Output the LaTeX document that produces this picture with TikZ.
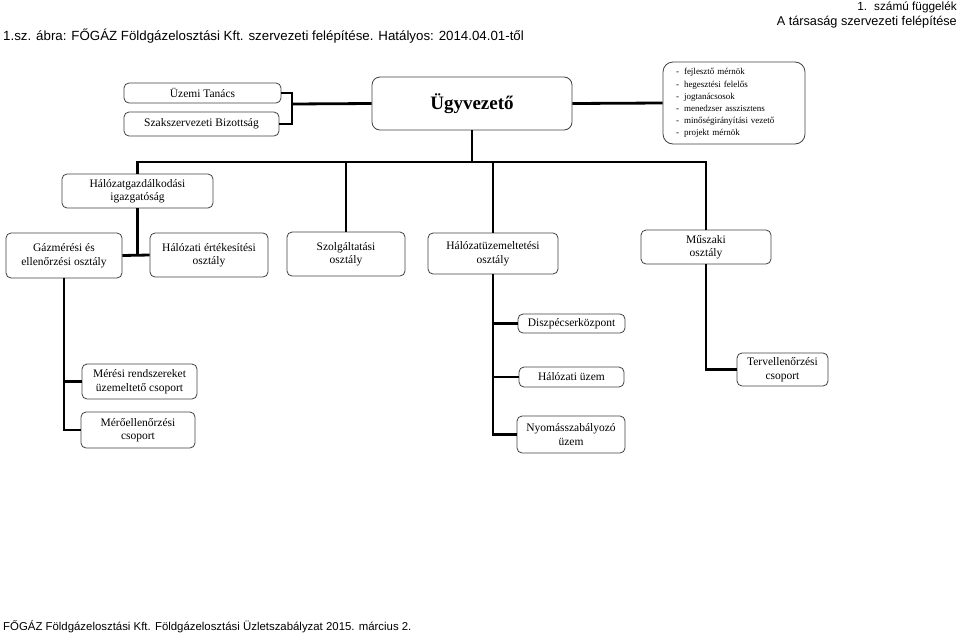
\documentclass[tikz,border=0pt]{standalone}
\usepackage{fontspec}
\setmainfont{Liberation Serif}
\newfontfamily\hdfont{Liberation Sans}
\usetikzlibrary{positioning,calc}

\tikzstyle{unit} = [rectangle, draw=black!75, line width=0.8pt, rounded corners=5pt, align=center, inner sep=1pt, font=\fontsize{11.5}{13.5}\selectfont]
\tikzstyle{link} = [draw, line width=2.8pt]
\tikzstyle{hdr}  = [font=\hdfont\fontsize{12.7}{15}\selectfont, inner sep=0pt]

\begin{document}
\begin{tikzpicture}[x=1pt, y=-1pt]
    \useasboundingbox (0,0) rectangle (960,635);

    % fejlec es lablec
    \node[hdr, anchor=east, font=\hdfont\fontsize{11.8}{13}\selectfont] (fugg) at (957,7) {1.\hspace{7pt}számú függelék};
    \node[hdr, anchor=east] (tars)  at (957,22) {A társaság szervezeti felépítése};
    \node[hdr, anchor=west, font=\hdfont\fontsize{13.3}{15}\selectfont] (cim) at (3,36)
        {1.sz. ábra: FŐGÁZ Földgázelosztási Kft. szervezeti felépítése. Hatályos: 2014.04.01-től};
    \node[hdr, anchor=west, font=\hdfont\fontsize{11.4}{14}\selectfont] (labl) at (3,627)
        {FŐGÁZ Földgázelosztási Kft. Földgázelosztási Üzletszabályzat 2015. március 2.};

    % felso szint
    \node[unit, minimum width=157pt, minimum height=20pt] (uzemi) at (202.5,93)  {Üzemi Tanács};
    \node[unit, minimum width=155pt, minimum height=24pt] (szak)  at (201.5,124) {Szakszervezeti Bizottság};
    \node[unit, minimum width=200pt, minimum height=53pt, rounded corners=8pt,
          font=\bfseries\fontsize{19}{22}\selectfont]   (ugyv)  at (472,103.5) {Ügyvezető};
    \node[unit, minimum width=142pt, minimum height=82pt, rounded corners=10pt, align=left,
          text width=116pt, inner xsep=13pt, font=\fontsize{9}{12.1}\selectfont] (staff) at (734,103)
    {-\hspace{5pt}fejlesztő mérnök\\
     -\hspace{5pt}hegesztési felelős\\
     -\hspace{5pt}jogtanácsosok\\
     -\hspace{5pt}menedzser asszisztens\\
     -\hspace{5pt}minőségirányítási vezető\\
     -\hspace{5pt}projekt mérnök};

    % igazgatosag es osztalyok
    \node[unit, minimum width=151pt, minimum height=34pt] (halgazd) at (137.5,191) {Hálózatgazdálkodási\\igazgatóság};
    \node[unit, minimum width=116pt, minimum height=45pt] (gazmer)  at (64,255.5)  {Gázmérési és\\ellenőrzési osztály};
    \node[unit, minimum width=118pt, minimum height=44pt] (halert)  at (209,255)   {Hálózati értékesítési\\osztály};
    \node[unit, minimum width=118pt, minimum height=44pt] (szolg)   at (346,254)   {Szolgáltatási\\osztály};
    \node[unit, minimum width=130pt, minimum height=41pt] (halzem)  at (493,253.5) {Hálózatüzemeltetési\\osztály};
    \node[unit, minimum width=130pt, minimum height=34pt] (muszaki) at (706,247)   {Műszaki\\osztály};

    % csoportok
    \node[unit, minimum width=115pt, minimum height=35pt] (meresi)   at (139.5,381.5) {Mérési rendszereket\\üzemeltető csoport};
    \node[unit, minimum width=114pt, minimum height=36pt] (meroell)  at (138,430)     {Mérőellenőrzési\\csoport};
    \node[unit, minimum width=107pt, minimum height=19pt] (diszp)    at (571.5,323.5) {Diszpécserközpont};
    \node[unit, minimum width=105pt, minimum height=20pt] (halzuzem) at (571.5,377)   {Hálózati üzem};
    \node[unit, minimum width=108pt, minimum height=37pt] (nyomas)   at (571,434.5)   {Nyomásszabályozó\\üzem};
    \node[unit, minimum width=91pt,  minimum height=33pt] (terv)     at (782.5,369.5) {Tervellenőrzési\\csoport};

    \coordinate (brk) at (292,104);
    \coordinate (bar) at (472,162);

    \path[link] (uzemi.east) -| (brk) |- (szak.east);
    \path[link] (brk) -- (ugyv.west);
    \path[link] (ugyv.east) -- (staff.west);
    \path[link] (ugyv.south) -- (bar);
    \path[link] (halgazd.north) |- (bar) -| (muszaki.north);
    \path[link] (szolg.north) -- (szolg.north |- bar);
    \path[link] (halzem.north) -- (halzem.north |- bar);
    \path[link] (halgazd.south) -- (halgazd.south |- gazmer.east);
    \path[link] (gazmer.east) -- (halert.west);
    \path[link] (gazmer.south) |- (meroell.west);
    \path[link] (meresi.west) -- (meresi.west -| gazmer.south);
    \path[link] (halzem.south) |- (nyomas.west);
    \path[link] (diszp.west) -- (diszp.west -| halzem.south);
    \path[link] (halzuzem.west) -- (halzuzem.west -| halzem.south);
    \path[link] (muszaki.south) |- (terv.west);

\end{tikzpicture}
\end{document}
